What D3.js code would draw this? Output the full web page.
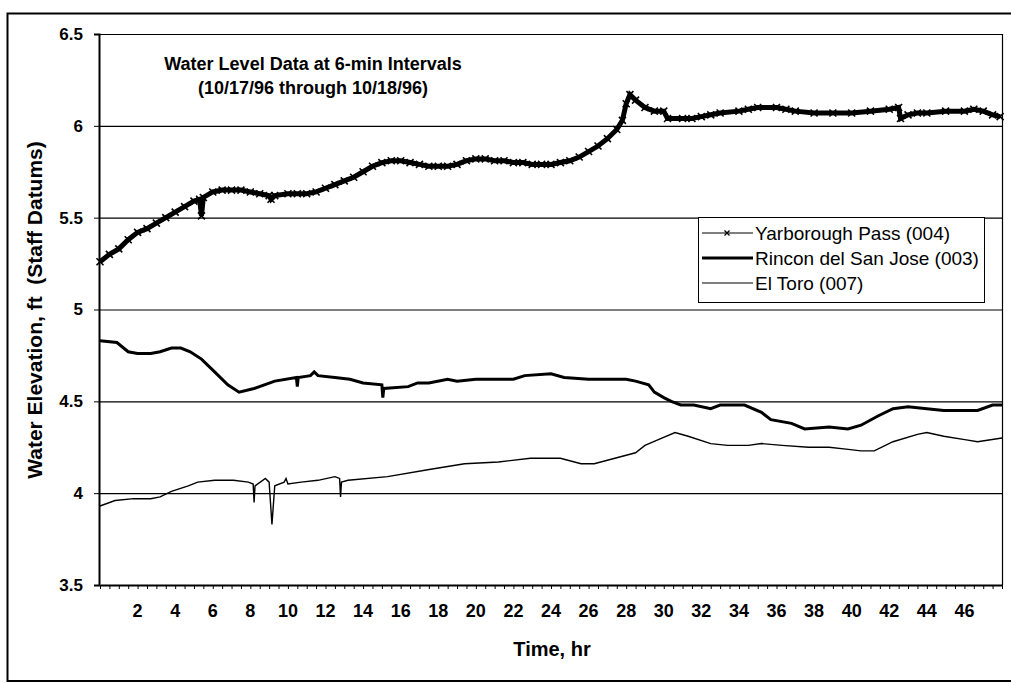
<!DOCTYPE html>
<html>
<head>
<meta charset="utf-8">
<script src="https://cdn.jsdelivr.net/npm/d3@7"></script>
<style>
  body { margin: 0; background: #fff; }
  text { font-family: "Liberation Sans", Arial, sans-serif; fill: #000; }
</style>
</head>
<body>
<script>
// Yarborough Pass (004)
var yarHours = [0, 0.5, 1, 1.5, 2, 2.5, 3, 3.5, 4, 4.5, 5, 5.3, 5.4, 5.5, 6, 6.5, 7, 7.5, 8, 8.5, 9, 9.1, 9.3, 10, 10.5, 11, 11.5, 12, 12.5, 13, 13.5, 14, 14.5, 15, 15.5, 16, 16.5, 17, 17.5, 18, 18.5, 19, 19.5, 20, 20.5, 21, 21.5, 22, 22.5, 23, 23.5, 24, 24.5, 25, 25.5, 26, 26.5, 27, 27.5, 27.8, 28, 28.2, 28.5, 29, 29.5, 30, 30.2, 31, 31.5, 32, 32.5, 33, 34, 34.5, 35, 36, 36.5, 37, 38, 39, 40, 41, 42, 42.5, 42.6, 43, 43.5, 44, 45, 46, 46.5, 47, 47.5, 47.9];
var yarLevels = [5.26, 5.30, 5.33, 5.38, 5.42, 5.44, 5.47, 5.50, 5.53, 5.56, 5.59, 5.60, 5.51, 5.61, 5.64, 5.65, 5.65, 5.65, 5.64, 5.63, 5.62, 5.60, 5.62, 5.63, 5.63, 5.63, 5.64, 5.66, 5.68, 5.70, 5.72, 5.75, 5.78, 5.80, 5.81, 5.81, 5.80, 5.79, 5.78, 5.78, 5.78, 5.79, 5.81, 5.82, 5.82, 5.81, 5.81, 5.80, 5.80, 5.79, 5.79, 5.79, 5.80, 5.81, 5.83, 5.86, 5.89, 5.93, 5.98, 6.03, 6.12, 6.17, 6.14, 6.10, 6.08, 6.08, 6.04, 6.04, 6.04, 6.05, 6.06, 6.07, 6.08, 6.09, 6.10, 6.10, 6.09, 6.08, 6.07, 6.07, 6.07, 6.08, 6.09, 6.10, 6.04, 6.06, 6.07, 6.07, 6.08, 6.08, 6.09, 6.08, 6.06, 6.05];

// Rincon del San Jose (003)
var rinHours = [0, 0.9, 1.5, 2, 2.7, 3.2, 3.8, 4.3, 4.8, 5.4, 6.1, 6.8, 7.4, 8.2, 9.3, 10.45, 10.5, 10.55, 11.2, 11.4, 11.6, 12.5, 13.3, 14, 15.0, 15.05, 15.1, 16.4, 16.9, 17.5, 18.5, 19, 20, 22, 22.6, 24, 24.7, 26, 28, 28.5, 29.2, 29.5, 30, 30.4, 30.9, 31.6, 32.5, 33, 34.3, 35.2, 35.7, 36.8, 37.5, 38.8, 39.8, 40.5, 41.4, 42.2, 43, 44, 44.9, 45.8, 46.7, 47.5, 48];
var rinLevels = [4.83, 4.82, 4.77, 4.76, 4.76, 4.77, 4.79, 4.79, 4.77, 4.73, 4.66, 4.59, 4.55, 4.57, 4.61, 4.63, 4.58, 4.63, 4.64, 4.66, 4.64, 4.63, 4.62, 4.60, 4.59, 4.52, 4.57, 4.58, 4.60, 4.60, 4.62, 4.61, 4.62, 4.62, 4.64, 4.65, 4.63, 4.62, 4.62, 4.61, 4.59, 4.55, 4.52, 4.50, 4.48, 4.48, 4.46, 4.48, 4.48, 4.44, 4.40, 4.38, 4.35, 4.36, 4.35, 4.37, 4.42, 4.46, 4.47, 4.46, 4.45, 4.45, 4.45, 4.48, 4.48];

// El Toro (007)
var toroHours = [0, 0.8, 1.8, 2.7, 3.2, 3.8, 4.7, 5.2, 6.1, 7.1, 7.9, 8.15, 8.2, 8.25, 8.8, 9.0, 9.15, 9.3, 9.8, 9.9, 10.0, 10.7, 11.6, 12.5, 12.75, 12.8, 12.85, 13.2, 15.3, 17.6, 19.4, 21.2, 22.9, 24.5, 25.6, 26.3, 27.4, 28.5, 29, 29.9, 30.6, 31.3, 32.5, 33.4, 34.5, 35.2, 36.3, 37.7, 38.8, 39.7, 40.5, 41.2, 42.2, 43.5, 44, 44.9, 46.1, 46.7, 48];
var toroLevels = [3.93, 3.96, 3.97, 3.97, 3.98, 4.01, 4.04, 4.06, 4.07, 4.07, 4.06, 4.05, 3.95, 4.04, 4.08, 4.06, 3.83, 4.04, 4.06, 4.08, 4.05, 4.06, 4.07, 4.09, 4.08, 3.98, 4.06, 4.07, 4.09, 4.13, 4.16, 4.17, 4.19, 4.19, 4.16, 4.16, 4.19, 4.22, 4.26, 4.30, 4.33, 4.31, 4.27, 4.26, 4.26, 4.27, 4.26, 4.25, 4.25, 4.24, 4.23, 4.23, 4.28, 4.32, 4.33, 4.31, 4.29, 4.28, 4.30];

var seriesNames = ["Yarborough Pass (004)", "Rincon del San Jose (003)", "El Toro (007)"];
var yTicks = [3.5, 4, 4.5, 5, 5.5, 6, 6.5];
var xTickLabels = [2, 4, 6, 8, 10, 12, 14, 16, 18, 20, 22, 24, 26, 28, 30, 32, 34, 36, 38, 40, 42, 44, 46];
var titleLines = ["Water Level Data at 6-min Intervals", "(10/17/96 through 10/18/96)"];

var svgWidth = 1011;
var svgHeight = 683;

var plot = {left: 99, right: 1002, top: 34, bottom: 585};

var svg = d3.select("body")
  .append("svg")
  .attr("width", svgWidth)
  .attr("height", svgHeight);

// outer frame (runs off the right edge of the page)
svg.append("path")
  .attr("d", "M1011,13.5H7.5V681H1011")
  .attr("fill", "none")
  .attr("stroke", "#000")
  .attr("stroke-width", 2);

var x = d3.scaleLinear().domain([0, 48]).range([plot.left + 1, plot.right]);
var y = d3.scaleLinear().domain([3.5, 6.5]).range([plot.bottom, plot.top]);

// gridlines
svg.append("g")
  .selectAll("line")
  .data(yTicks.slice(1))
  .enter()
  .append("line")
  .attr("x1", plot.left)
  .attr("x2", plot.right)
  .attr("y1", d => y(d) + 0.5)
  .attr("y2", d => y(d) + 0.5)
  .attr("stroke", "#000")
  .attr("stroke-width", 1.2);

// right border
svg.append("line")
  .attr("x1", plot.right + 0.5).attr("x2", plot.right + 0.5)
  .attr("y1", plot.top).attr("y2", plot.bottom)
  .attr("stroke", "#000").attr("stroke-width", 1.2);

// y axis
var leftAxis = d3.axisLeft(y)
  .tickValues(yTicks)
  .tickSize(5)
  .tickPadding(11)
  .tickFormat(d3.format("~g"));

var yAxis = svg.append("g")
  .attr("transform", `translate(${plot.left}, 0)`)
  .call(leftAxis);
yAxis.select(".domain").attr("stroke-width", 2);
yAxis.selectAll("text")
  .style("font-size", "17px")
  .style("font-weight", "bold");

// x axis: small ticks every half hour, labels every 2 hr
var minorTicks = d3.range(0, 48.01, 0.5);
var bottomAxis = d3.axisBottom(x)
  .tickValues(minorTicks)
  .tickSize(4)
  .tickSizeOuter(0)
  .tickFormat("");

var xAxis = svg.append("g")
  .attr("transform", `translate(0, ${plot.bottom})`)
  .call(bottomAxis);
xAxis.select(".domain").attr("stroke-width", 2);

svg.append("g")
  .selectAll("text")
  .data(xTickLabels)
  .enter()
  .append("text")
  .attr("x", d => x(d))
  .attr("y", 617)
  .attr("text-anchor", "middle")
  .style("font-size", "18px")
  .style("font-weight", "bold")
  .text(d => d);

// series lines
function pairs(hours, levels) {
  return hours.map((h, i) => [h, levels[i]]);
}

var line = d3.line()
  .x(d => x(d[0]))
  .y(d => y(d[1]));

var yarData = pairs(yarHours, yarLevels);
var rinData = pairs(rinHours, rinLevels);
var toroData = pairs(toroHours, toroLevels);

svg.append("path")
  .datum(toroData)
  .attr("d", line)
  .attr("fill", "none")
  .attr("stroke", "#000")
  .attr("stroke-width", 1.4);

svg.append("path")
  .datum(rinData)
  .attr("d", line)
  .attr("fill", "none")
  .attr("stroke", "#000")
  .attr("stroke-width", 3);

svg.append("path")
  .datum(yarData)
  .attr("d", line)
  .attr("fill", "none")
  .attr("stroke", "#000")
  .attr("stroke-width", 5);

var cross = "M-3.5,-3.5L3.5,3.5M-3.5,3.5L3.5,-3.5";
svg.append("g")
  .selectAll("path")
  .data(yarData)
  .enter()
  .append("path")
  .attr("transform", d => `translate(${x(d[0])}, ${y(d[1])})`)
  .attr("d", cross)
  .attr("stroke", "#000")
  .attr("stroke-width", 1.6);

// title
svg.append("g")
  .selectAll("text")
  .data(titleLines)
  .enter()
  .append("text")
  .attr("x", 313)
  .attr("y", (d, i) => 70 + i * 24)
  .attr("text-anchor", "middle")
  .style("font-size", "18px")
  .style("font-weight", "bold")
  .text(d => d);

// axis titles
svg.append("text")
  .attr("transform", "translate(42, 310) rotate(-90)")
  .attr("text-anchor", "middle")
  .style("font-size", "21px")
  .style("font-weight", "bold")
  .style("white-space", "pre")
  .text("Water Elevation, ft  (Staff Datums)");

svg.append("text")
  .attr("x", 552)
  .attr("y", 656)
  .attr("text-anchor", "middle")
  .style("font-size", "20px")
  .style("font-weight", "bold")
  .text("Time, hr");

// legend
var legend = svg.append("g").attr("transform", "translate(698, 217)");
legend.append("rect")
  .attr("x", 0.5).attr("y", 0.5)
  .attr("width", 286).attr("height", 85)
  .attr("fill", "#fff")
  .attr("stroke", "#000")
  .attr("stroke-width", 1);

var legendWidths = [1.2, 3, 1.2];
var items = legend.selectAll("g.item")
  .data(seriesNames)
  .enter()
  .append("g")
  .attr("class", "item")
  .attr("transform", (d, i) => `translate(0, ${16 + i * 25})`);

items.append("line")
  .attr("x1", 4).attr("x2", 55)
  .attr("y1", 0).attr("y2", 0)
  .attr("stroke", "#000")
  .attr("stroke-width", (d, i) => legendWidths[i]);

items.filter((d, i) => i === 0)
  .append("path")
  .attr("transform", "translate(29, 0)")
  .attr("d", "M-2.5,-2.5L2.5,2.5M-2.5,2.5L2.5,-2.5")
  .attr("stroke", "#000")
  .attr("stroke-width", 1.3);

items.append("text")
  .attr("x", 57)
  .attr("y", 7)
  .style("font-size", "19px")
  .text(d => d);
</script>
</body>
</html>
